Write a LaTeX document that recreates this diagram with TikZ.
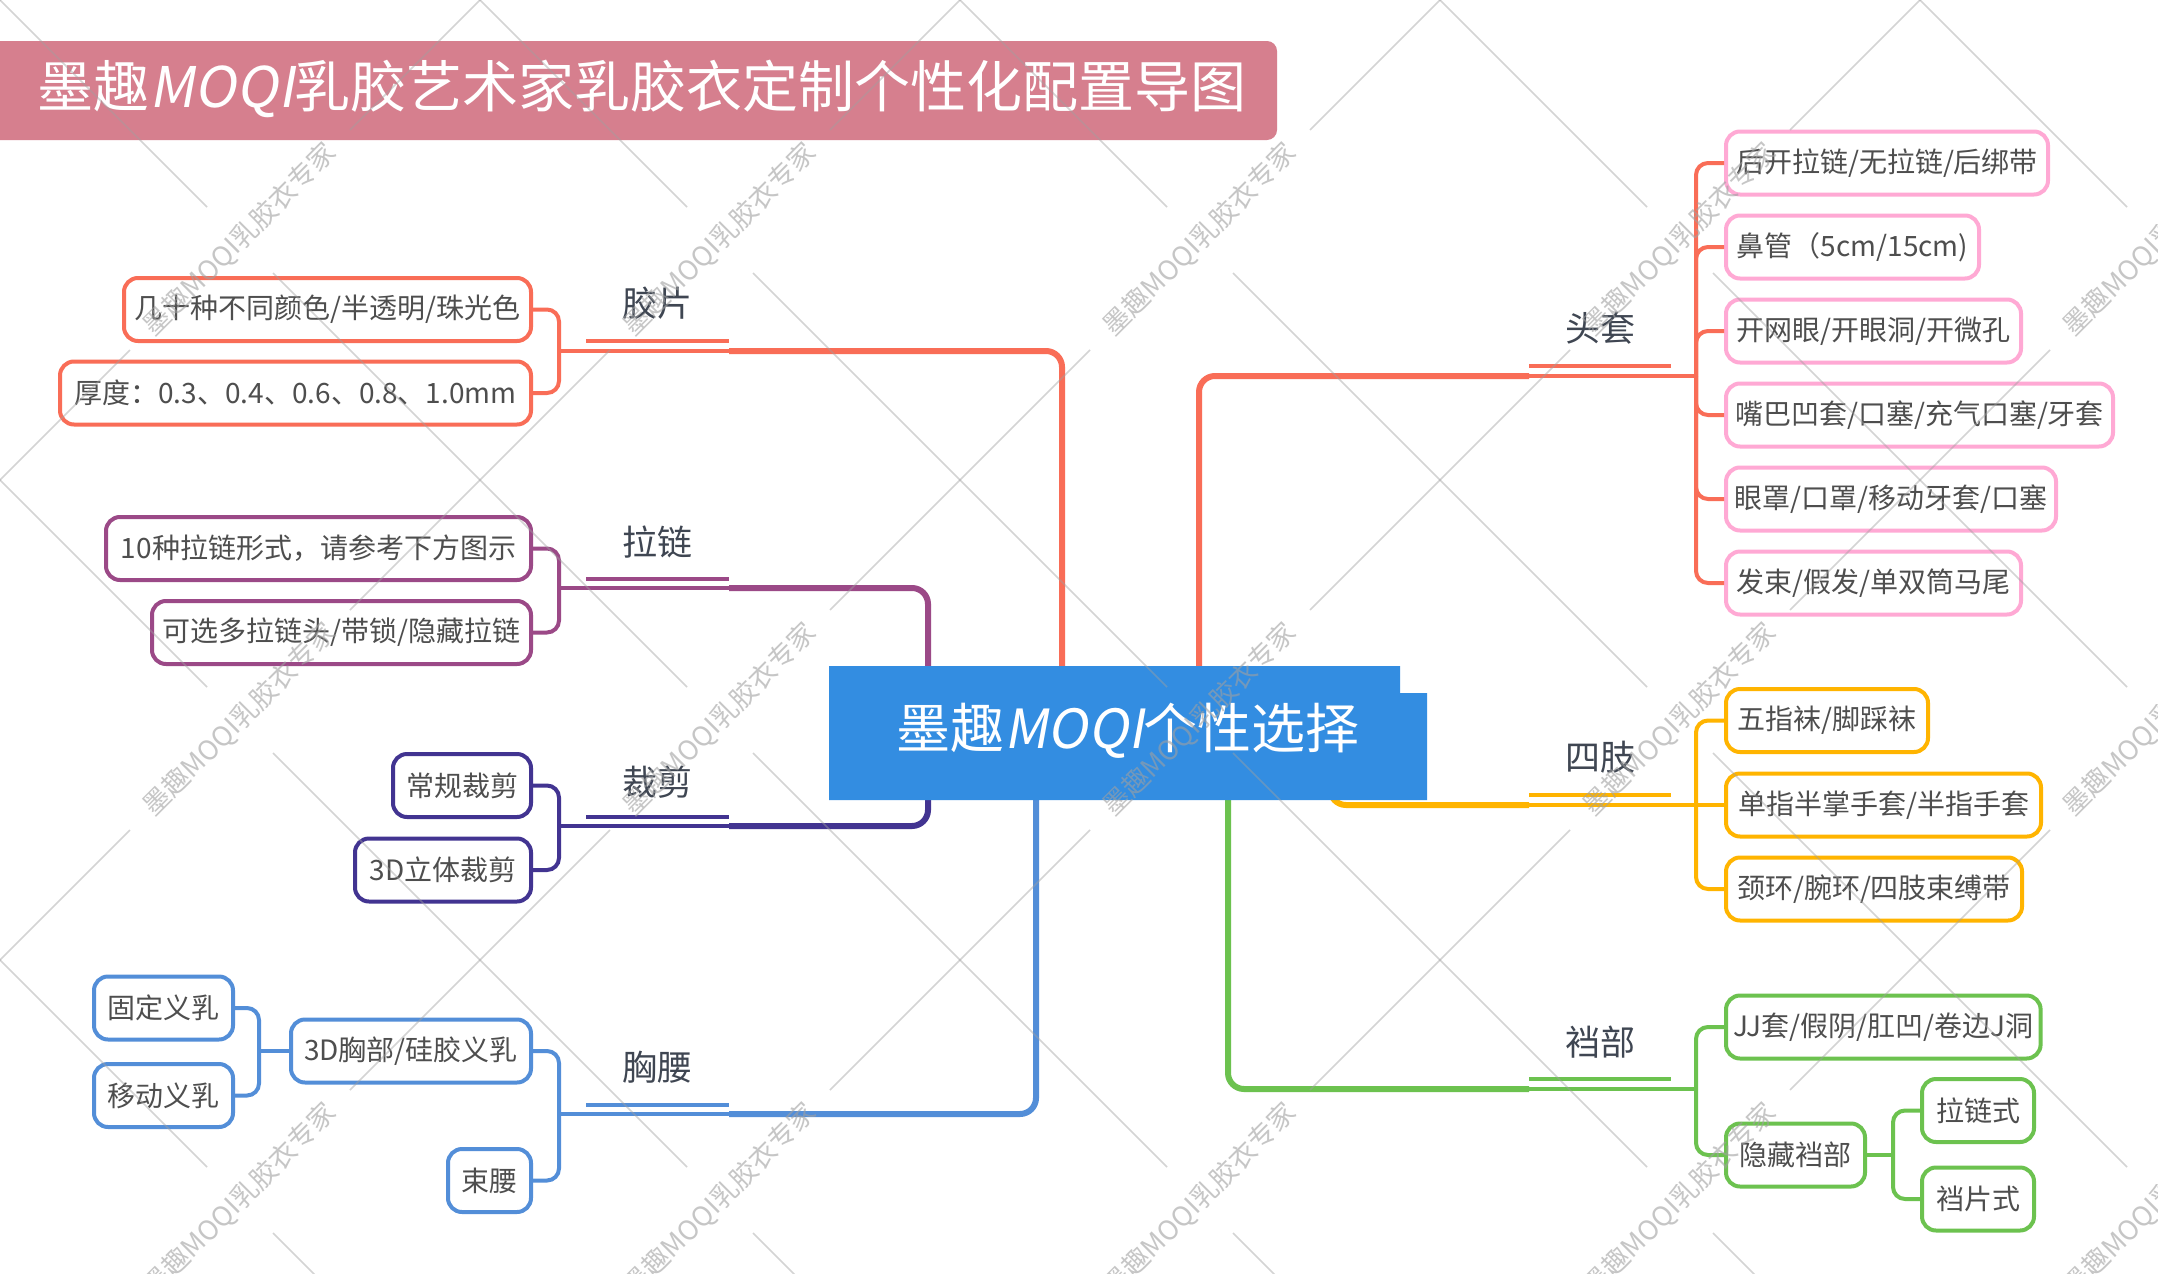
\documentclass[tikz,border=0pt]{standalone}
\usepackage{fontspec}
\newfontfamily\cjk{Noto Sans CJK SC}
\newfontfamily\cjkslant{Noto Sans CJK SC}[FakeSlant=0.18]
\definecolor{coral}{HTML}{F96D57}
\definecolor{zipc}{HTML}{9B4987}
\definecolor{cutc}{HTML}{423491}
\definecolor{chestc}{HTML}{538ED8}
\definecolor{pinkc}{HTML}{FFA9D4}
\definecolor{amberc}{HTML}{FFB400}
\definecolor{greenc}{HTML}{6CC24F}
\definecolor{rootc}{HTML}{338DE1}
\definecolor{titlec}{HTML}{D67F8E}
\definecolor{topictext}{HTML}{3F4652}
\definecolor{leaftext}{HTML}{4E4E4E}
\definecolor{wmc}{HTML}{A0A0A0}
\begin{document}
\begin{tikzpicture}[x=1pt,y=-1pt,
  leaf/.style={draw=#1, line width=4pt, rounded corners=14pt, fill=white, text=leaftext,
    font=\cjk\fontsize{28}{33}\selectfont, inner xsep=7pt, inner ysep=0pt, minimum height=63pt},
  topic/.style={text=topictext, font=\cjk\fontsize{35}{40}\selectfont, inner sep=0pt},
  thinln/.style={draw=#1, line width=4pt},
  thickln/.style={draw=#1, line width=6pt, rounded corners=16pt},
  brk/.style={draw=#1, line width=4pt, rounded corners=12pt},
  wmline/.style={draw=wmc, draw opacity=0.45, line width=1.5pt},
  wmtext/.style={rotate=45, text=wmc, text opacity=0.6, font=\cjk\fontsize{27}{29}\selectfont, inner sep=0pt}
]
\useasboundingbox (0,0) rectangle (2158,1274);
\fill[white] (0,0) rectangle (2158,1274);

% title
\fill[titlec, rounded corners=10pt] (-20,41) rectangle (1277,140);
\node[text=white, font=\cjk\fontsize{56}{60}\selectfont, inner sep=0pt] (title) at (642,89)
  {墨趣{\cjkslant MOQI}乳胶艺术家乳胶衣定制个性化配置导图};

% left leaves
\node[leaf=coral, anchor=east, minimum width=407pt] (j1) at (533,309.5) {几十种不同颜色/半透明/珠光色};
\node[leaf=coral, anchor=east, minimum width=471pt] (j2) at (533,393) {厚度：0.3、0.4、0.6、0.8、1.0mm};
\node[leaf=zipc, anchor=east, minimum width=425pt] (l1) at (533,548.5) {10种拉链形式，请参考下方图示};
\node[leaf=zipc, anchor=east, minimum width=379pt] (l2) at (533,632.5) {可选多拉链头/带锁/隐藏拉链};
\node[leaf=cutc, anchor=east, minimum width=138pt] (c1) at (533,785.5) {常规裁剪};
\node[leaf=cutc, anchor=east, minimum width=176pt] (c2) at (533,870) {3D立体裁剪};
\node[leaf=chestc, anchor=east, minimum width=240pt] (x1) at (533,1051) {3D胸部/硅胶义乳};
\node[leaf=chestc, anchor=east, minimum width=83pt] (x2) at (533,1180.5) {束腰};
\node[leaf=chestc, anchor=east, minimum width=139pt] (x11) at (235,1008) {固定义乳};
\node[leaf=chestc, anchor=east, minimum width=139pt] (x12) at (235,1095.5) {移动义乳};

% right leaves
\node[leaf=pinkc, anchor=west, minimum width=322pt] (t1) at (1724,163) {后开拉链/无拉链/后绑带};
\node[leaf=pinkc, anchor=west, minimum width=253pt] (t2) at (1724,247) {鼻管（5cm/15cm)};
\node[leaf=pinkc, anchor=west, minimum width=295pt] (t3) at (1724,331) {开网眼/开眼洞/开微孔};
\node[leaf=pinkc, anchor=west, minimum width=387pt] (t4) at (1724,415) {嘴巴凹套/口塞/充气口塞/牙套};
\node[leaf=pinkc, anchor=west, minimum width=330pt] (t5) at (1724,499) {眼罩/口罩/移动牙套/口塞};
\node[leaf=pinkc, anchor=west, minimum width=295pt] (t6) at (1724,583) {发束/假发/单双筒马尾};
\node[leaf=amberc, anchor=west, minimum width=202pt] (s1) at (1724,720.5) {五指袜/脚踩袜};
\node[leaf=amberc, anchor=west, minimum width=315pt] (s2) at (1724,805) {单指半掌手套/半指手套};
\node[leaf=amberc, anchor=west, minimum width=296pt] (s3) at (1724,889) {颈环/腕环/四肢束缚带};
\node[leaf=greenc, anchor=west, minimum width=303pt] (d1) at (1724,1027) {JJ套/假阴/肛凹/卷边J洞};
\node[leaf=greenc, anchor=west, minimum width=139pt] (d2) at (1724,1155) {隐藏裆部};
\node[leaf=greenc, anchor=west, minimum width=112pt] (d21) at (1920,1110.5) {拉链式};
\node[leaf=greenc, anchor=west, minimum width=112pt] (d22) at (1920,1199) {裆片式};

% topics
\node[topic] (tj) at (657,303) {胶片};
\node[topic] (tl) at (657,542) {拉链};
\node[topic] (tc) at (657,782) {裁剪};
\node[topic] (tx) at (657,1067) {胸腰};
\node[topic] (tt) at (1600,328) {头套};
\node[topic] (ts) at (1600,757) {四肢};
\node[topic] (td) at (1600,1042) {裆部};

% junction coordinates
\coordinate (jb) at (559,351);  \coordinate (je) at (729,351);  \coordinate (jc) at (1062,700);
\coordinate (lb) at (559,588);  \coordinate (le) at (729,588);  \coordinate (lc) at (928,700);
\coordinate (cb) at (559,826);  \coordinate (ce) at (729,826);  \coordinate (cc) at (928,770);
\coordinate (xb) at (559,1114); \coordinate (xe) at (729,1114); \coordinate (xc) at (1036,770);
\coordinate (xsb) at (259,1051);
\coordinate (tb) at (1696,376); \coordinate (te) at (1529,376); \coordinate (tcn) at (1199,700);
\coordinate (sb) at (1696,805); \coordinate (se) at (1529,805); \coordinate (sc) at (1330,770);
\coordinate (db) at (1696,1089); \coordinate (de) at (1529,1089); \coordinate (dc) at (1228,770);
\coordinate (dsb) at (1893,1155);

% underlines
\draw[thinln=coral]  (586,341) -- (729,341);
\draw[thinln=zipc]   (586,579) -- (729,579);
\draw[thinln=cutc]   (586,817) -- (729,817);
\draw[thinln=chestc] (586,1105) -- (729,1105);
\draw[thinln=coral]  (1529,366) -- (1671,366);
\draw[thinln=amberc] (1529,795) -- (1671,795);
\draw[thinln=greenc] (1529,1079) -- (1671,1079);

% left connectors
\draw[brk=coral] (j1.east) -| (jb) |- (j2.east);
\draw[thinln=coral] (jb) -- (je);
\draw[thickln=coral] (je) -| (jc);
\draw[brk=zipc] (l1.east) -| (lb) |- (l2.east);
\draw[thinln=zipc] (lb) -- (le);
\draw[thickln=zipc] (le) -| (lc);
\draw[brk=cutc] (c1.east) -| (cb) |- (c2.east);
\draw[thinln=cutc] (cb) -- (ce);
\draw[thickln=cutc] (ce) -| (cc);
\draw[brk=chestc] (x1.east) -| (xb) |- (x2.east);
\draw[thinln=chestc] (xb) -- (xe);
\draw[thickln=chestc] (xe) -| (xc);
\draw[brk=chestc] (x11.east) -| (xsb) |- (x12.east);
\draw[thinln=chestc] (xsb) -- (x1.west);

% right connectors
\foreach \n in {t1,t2,t3,t4,t5,t6} \draw[brk=coral] (tb) |- (\n.west);
\draw[thinln=coral] (tb) -- (te);
\draw[thickln=coral] (te) -| (tcn);
\draw[brk=amberc] (sb) |- (s1.west);
\draw[brk=amberc] (sb) |- (s3.west);
\draw[thinln=amberc] (se) -- (s2.west);
\draw[thickln=amberc] (se) -| (sc);
\draw[brk=greenc] (db) |- (d1.west);
\draw[brk=greenc] (db) |- (d2.west);
\draw[thinln=greenc] (db) -- (de);
\draw[thickln=greenc] (de) -| (dc);
\draw[thinln=greenc] (d2.east) -- (dsb);
\draw[brk=greenc] (d21.west) -| (dsb) |- (d22.west);

% root
\fill[rootc] (829,666) -- (1400,666) -- (1400,693) -- (1427,693) -- (1427,800) -- (829,800) -- cycle;
\node[text=white, font=\cjk\fontsize{54}{58}\selectfont, inner sep=0pt] (root) at (1128,731)
  {墨趣{\cjkslant MOQI}个性选择};

% watermark
\begin{scope}
\clip (0,0) rectangle (2158,1274);
\foreach \m in {0,...,8} {
  \foreach \a in {-3,-1,...,11} {
    \draw[wmline] ({240*\a+110},{480*\m-240*\a-110}) -- ({240*\a+370},{480*\m-240*\a-370});
  }
}
\foreach \k in {-3,...,5} {
  \foreach \a in {-3,-1,...,11} {
    \draw[wmline] ({240*\a+33},{240*\a+33-480*\k}) -- ({240*\a+447},{240*\a+447-480*\k});
  }
}
\foreach \a in {1,3,5,7,9} {
  \foreach \b in {1,3,5} {
    \node[wmtext] at ({240*\a},{240*\b}) {墨趣MOQI乳胶衣专家};
  }
}
\end{scope}
\end{tikzpicture}
\end{document}
